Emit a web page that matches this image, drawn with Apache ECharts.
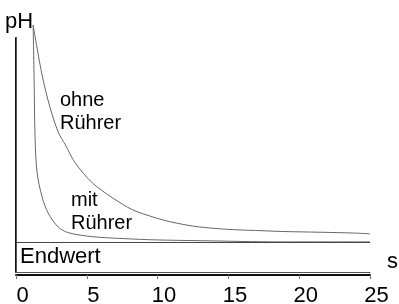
<!DOCTYPE html>
<html>
<head>
<meta charset="utf-8">
<script src="https://cdn.jsdelivr.net/npm/echarts@6/dist/echarts.min.js"></script>
<style>
  html, body { margin: 0; padding: 0; background: #fff; }
  #main { width: 399px; height: 304px; }
</style>
</head>
<body>
<div id="main"></div>
<script>
var myChart = echarts.init(document.getElementById('main'));

// Zeit in s
var tOhne = [1.21, 1.84, 2.41, 2.98, 3.48, 4.18, 5.39, 6.81, 8.23, 9.86, 10.92, 12.55, 14.26, 15.67, 17.3, 18.72, 21.56, 23.9, 25];
var phOhne = [12.4, 11.16, 10.34, 9.74, 9.42, 8.97, 8.47, 8.1, 7.8, 7.6, 7.5, 7.39, 7.33, 7.3, 7.28, 7.26, 7.24, 7.22, 7.2];
var tMit = [1.21, 1.28, 1.35, 1.49, 1.84, 2.27, 2.98, 3.69, 5.39, 7.73, 9.86, 13.05, 18.72, 25];
var phMit = [12.4, 11.03, 9.54, 8.72, 8.12, 7.72, 7.37, 7.23, 7.13, 7.08, 7.05, 7.03, 7.0, 7.0];
var endwert = 7;
var xTicks = [0, 5, 10, 15, 20, 25];

var font = 'Liberation Sans, Arial, sans-serif';

function pairs(xs, ys) {
    return xs.map(function (x, i) { return [x, ys[i]]; });
}

var option = {
    animation: false,
    grid: { left: 16, right: 29, top: 38, bottom: 32, outerBoundsMode: 'none', containLabel: false },
    xAxis: [{
        type: 'value',
        min: 0,
        max: 25,
        interval: 5,
        offset: 3,
        axisLine: { lineStyle: { color: '#111', width: 2 } },
        axisTick: { length: 4, lineStyle: { color: '#777' } },
        axisLabel: {
            fontFamily: font, fontSize: 22, color: '#000', margin: 10,
            padding: [0, 0, 0, 13],
            formatter: function (v) { return xTicks.indexOf(v) >= 0 ? String(v) : ''; }
        },
        splitLine: { show: false }
    }, {
        type: 'value',
        position: 'bottom',
        min: 0,
        max: 25,
        offset: 0,
        axisLine: { show: true, lineStyle: { color: '#555', width: 1 } },
        axisTick: { show: false },
        axisLabel: { show: false },
        splitLine: { show: false }
    }],
    yAxis: [{
        type: 'value',
        min: 6.25,
        max: 12.08,
        offset: 3,
        axisLine: { show: true, lineStyle: { color: '#111', width: 2 } },
        axisTick: { show: false },
        axisLabel: { show: false },
        splitLine: { show: false }
    }, {
        type: 'value',
        position: 'left',
        min: 6.25,
        max: 12.08,
        offset: 0,
        axisLine: { show: true, lineStyle: { color: '#555', width: 1 } },
        axisTick: { show: false },
        axisLabel: { show: false },
        splitLine: { show: false }
    }],
    series: [{
        name: 'ohne Rührer',
        type: 'line',
        smooth: 0.3,
        clip: false,
        showSymbol: false,
        lineStyle: { color: '#666', width: 1 },
        data: pairs(tOhne, phOhne),
        markLine: {
            silent: true,
            symbol: 'none',
            label: { show: false },
            lineStyle: { color: '#444', width: 1, type: 'solid' },
            data: [{ yAxis: endwert }]
        }
    }, {
        name: 'mit Rührer',
        type: 'line',
        smooth: 0.3,
        clip: false,
        showSymbol: false,
        lineStyle: { color: '#666', width: 1 },
        data: pairs(tMit, phMit)
    }],
    graphic: [
        { type: 'text', left: 5, top: 11, style: { text: 'pH', font: '22px ' + font, fill: '#000' } },
        { type: 'text', left: 387, top: 251, style: { text: 's', font: '22px ' + font, fill: '#000' } },
        { type: 'text', left: 60, top: 89, style: { text: 'ohne\nRührer', font: '20px ' + font, lineHeight: 23, fill: '#000' } },
        { type: 'text', left: 71, top: 189, style: { text: 'mit\nRührer', font: '20px ' + font, lineHeight: 23, fill: '#000' } },
        { type: 'text', left: 20, top: 246, style: { text: 'Endwert', font: '22px ' + font, fill: '#000' } }
    ]
};

myChart.setOption(option);
</script>
</body>
</html>
